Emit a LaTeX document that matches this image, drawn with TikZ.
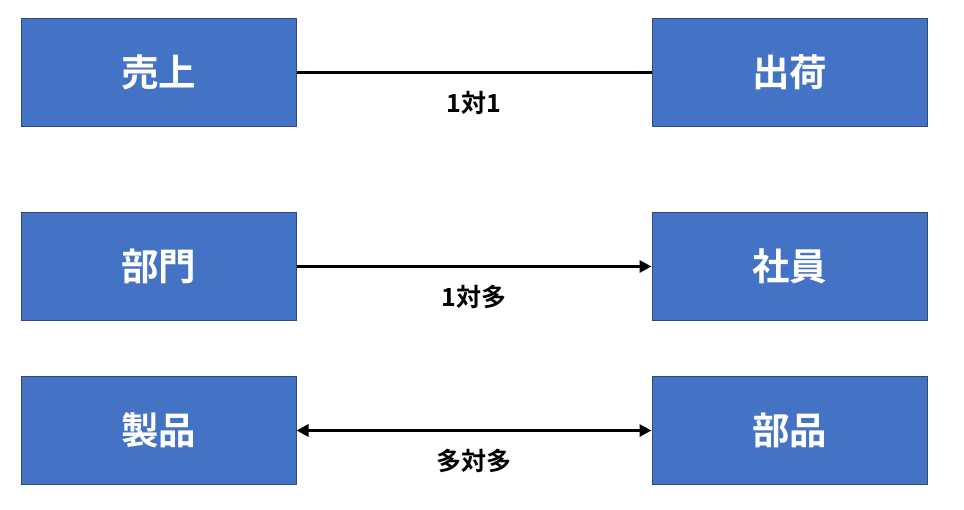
\documentclass[tikz,border=0pt]{standalone}
\usepackage{fontspec}
\newfontfamily\jpfont{Noto Sans CJK JP}[BoldFont={* Bold}]
\usetikzlibrary{arrows.meta}
\definecolor{boxblue}{HTML}{4472C4}
\definecolor{boxedge}{HTML}{2F4A7A}
\begin{document}
\begin{tikzpicture}[x=1pt,y=-1pt,
  ent/.style={draw=boxedge,line width=1pt,fill=boxblue,minimum width=275pt,minimum height=108pt,inner sep=0pt,
    text=white,font=\jpfont\bfseries\fontsize{37.5}{44}\selectfont},
  rel/.style={line width=3.5pt},
  lab/.style={font=\jpfont\bfseries\fontsize{25}{30}\selectfont,text=black}]
\useasboundingbox (0,0) rectangle (964,510);
\node[ent] (a) at (158.5,72.5) {売上};
\node[ent] (b) at (789.5,72.5) {出荷};
\node[ent] (c) at (158.5,266.5) {部門};
\node[ent] (d) at (789.5,266.5) {社員};
\node[ent] (e) at (158.5,430.5) {製品};
\node[ent] (f) at (789.5,430.5) {部品};
\draw[rel] (a) -- (b);
\draw[rel,-{Triangle[length=12pt,width=12pt]}] (c) -- (d);
\draw[rel,{Triangle[length=12pt,width=12pt]}-{Triangle[length=12pt,width=12pt]}] (e) -- (f);
\node[lab] (l1) at (474,103) {1対1};
\node[lab] (l2) at (474,297) {1対多};
\node[lab] (l3) at (474,461) {多対多};
\end{tikzpicture}
\end{document}
